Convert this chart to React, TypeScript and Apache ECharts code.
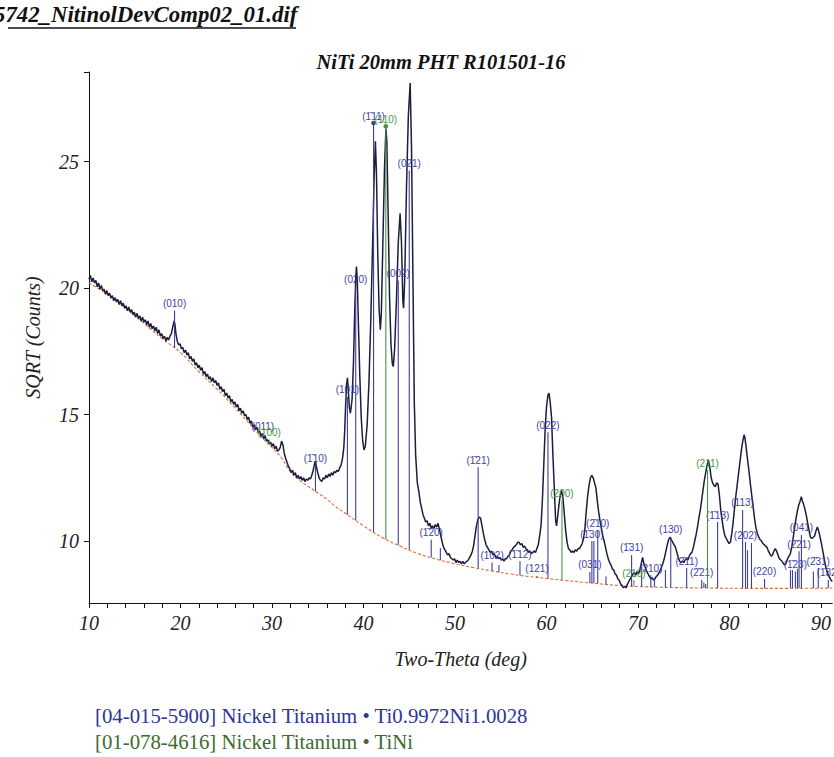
import React, { useEffect, useRef } from "react";
import * as echarts from "echarts";

// Diffraction pattern: [two-theta (deg), SQRT(counts)]
const pattern: [number, number][] = [
  [10.0, 20.35], [10.15, 20.5], [10.3, 20.25], [10.45, 20.4], [10.6, 20.2], [10.75, 20.3], [10.9, 20.05], [11.05, 20.2],
  [11.2, 19.95], [11.35, 20.1], [11.5, 19.9], [11.65, 19.95], [11.8, 19.75], [11.95, 19.9], [12.1, 19.7], [12.25, 19.8],
  [12.4, 19.6], [12.55, 19.7], [12.7, 19.5], [12.85, 19.62], [13.0, 19.45], [13.15, 19.55], [13.3, 19.35], [13.45, 19.5],
  [13.6, 19.3], [13.75, 19.4], [13.9, 19.2], [14.05, 19.3], [14.2, 19.1], [14.35, 19.25], [14.5, 19.05], [14.65, 19.15],
  [14.8, 18.95], [14.95, 19.05], [15.1, 18.85], [15.25, 19.0], [15.4, 18.8], [15.55, 18.9], [15.7, 18.7], [15.85, 18.85],
  [16.0, 18.65], [16.15, 18.75], [16.3, 18.55], [16.45, 18.7], [16.6, 18.45], [16.75, 18.6], [16.9, 18.4], [17.05, 18.5],
  [17.2, 18.3], [17.35, 18.45], [17.5, 18.2], [17.65, 18.35], [17.8, 18.1], [17.95, 18.2], [18.1, 18.0], [18.25, 18.1],
  [18.4, 17.9], [18.55, 18.05], [18.7, 17.95], [18.85, 18.1], [19.0, 18.2], [19.15, 18.45], [19.3, 18.7], [19.4, 18.55],
  [19.5, 18.2], [19.65, 17.9], [19.8, 17.75], [19.95, 17.8], [20.1, 17.6], [20.25, 17.65], [20.4, 17.45], [20.55, 17.55],
  [20.7, 17.35], [20.85, 17.45], [21.0, 17.2], [21.15, 17.3], [21.3, 17.1], [21.45, 17.2], [21.6, 16.95], [21.75, 17.05],
  [21.9, 16.85], [22.05, 16.95], [22.2, 16.75], [22.35, 16.85], [22.5, 16.6], [22.65, 16.7], [22.8, 16.5], [22.95, 16.6],
  [23.1, 16.4], [23.25, 16.5], [23.4, 16.3], [23.55, 16.45], [23.7, 16.25], [23.85, 16.35], [24.0, 16.15], [24.15, 16.25],
  [24.3, 16.0], [24.45, 16.1], [24.6, 15.9], [24.75, 16.0], [24.9, 15.75], [25.05, 15.85], [25.2, 15.65], [25.35, 15.75],
  [25.5, 15.5], [25.65, 15.6], [25.8, 15.4], [25.95, 15.5], [26.1, 15.3], [26.25, 15.4], [26.4, 15.15], [26.55, 15.25],
  [26.7, 15.05], [26.85, 15.15], [27.0, 14.95], [27.15, 15.0], [27.3, 14.8], [27.45, 14.9], [27.6, 14.65], [27.75, 14.75],
  [27.9, 14.5], [28.05, 14.6], [28.2, 14.4], [28.35, 14.5], [28.5, 14.3], [28.65, 14.35], [28.8, 14.15], [28.95, 14.25],
  [29.1, 14.05], [29.25, 14.15], [29.4, 13.95], [29.55, 14.0], [29.7, 13.85], [29.85, 13.9], [30.0, 13.75], [30.15, 13.85],
  [30.3, 13.65], [30.45, 13.75], [30.6, 13.55], [30.75, 13.6], [30.9, 13.7], [31.05, 13.95], [31.2, 13.8], [31.35, 13.45],
  [31.5, 13.25], [31.65, 13.1], [31.8, 12.95], [31.95, 12.85], [32.1, 12.7], [32.25, 12.8], [32.4, 12.6], [32.55, 12.7],
  [32.7, 12.5], [32.85, 12.6], [33.0, 12.45], [33.15, 12.55], [33.3, 12.4], [33.45, 12.5], [33.6, 12.35], [33.75, 12.45],
  [33.9, 12.4], [34.05, 12.5], [34.2, 12.45], [34.35, 12.6], [34.5, 12.8], [34.65, 13.05], [34.75, 13.15], [34.85, 12.95],
  [35.0, 12.7], [35.15, 12.5], [35.3, 12.4], [35.45, 12.35], [35.6, 12.5], [35.75, 12.45], [35.9, 12.6], [36.05, 12.5],
  [36.2, 12.65], [36.35, 12.55], [36.5, 12.7], [36.65, 12.6], [36.8, 12.75], [36.95, 12.7], [37.1, 12.8], [37.25, 12.75],
  [37.4, 12.9], [37.55, 13.0], [37.7, 13.25], [37.85, 13.7], [37.95, 14.4], [38.05, 15.4], [38.15, 16.2], [38.25, 16.45],
  [38.35, 15.9], [38.45, 15.3], [38.57, 15.05], [38.75, 15.6], [38.9, 17.0], [39.05, 19.2], [39.15, 20.4], [39.23, 20.85],
  [39.32, 20.3], [39.45, 18.5], [39.6, 16.5], [39.75, 14.9], [39.9, 14.0], [40.05, 13.6], [40.2, 13.75], [40.4, 14.6],
  [40.6, 16.3], [40.8, 18.8], [41.0, 21.8], [41.15, 24.2], [41.3, 25.8], [41.42, 24.5], [41.55, 21.5], [41.7, 19.2],
  [41.84, 18.35], [41.95, 19.0], [42.1, 21.5], [42.3, 24.8], [42.45, 26.3], [42.55, 25.8], [42.7, 22.8], [42.85, 19.6],
  [43.0, 17.8], [43.15, 17.0], [43.26, 16.9], [43.4, 17.6], [43.6, 19.5], [43.8, 21.8], [44.0, 22.95], [44.15, 21.8],
  [44.3, 19.5], [44.38, 19.2], [44.5, 20.3], [44.7, 24.0], [44.9, 26.8], [45.1, 28.1], [45.25, 25.5], [45.4, 20.5],
  [45.55, 15.5], [45.7, 13.4], [45.88, 12.3], [46.05, 11.95], [46.2, 11.55], [46.35, 11.3], [46.5, 11.05], [46.65, 10.9],
  [46.8, 10.75], [46.95, 10.8], [47.1, 10.6], [47.25, 10.7], [47.4, 10.5], [47.55, 10.6], [47.7, 10.5], [47.85, 10.65],
  [48.0, 10.55], [48.15, 10.7], [48.3, 10.45], [48.45, 10.2], [48.6, 9.95], [48.75, 9.75], [48.9, 9.65], [49.05, 9.55],
  [49.2, 9.45], [49.35, 9.5], [49.5, 9.35], [49.65, 9.3], [49.8, 9.25], [49.95, 9.3], [50.1, 9.15], [50.25, 9.25],
  [50.4, 9.15], [50.55, 9.2], [50.7, 9.1], [50.85, 9.2], [51.0, 9.1], [51.15, 9.15], [51.3, 9.2], [51.45, 9.25],
  [51.6, 9.35], [51.75, 9.45], [51.9, 9.6], [52.05, 9.85], [52.2, 10.25], [52.35, 10.6], [52.5, 10.85], [52.65, 10.95],
  [52.8, 10.9], [52.95, 10.6], [53.1, 10.3], [53.25, 10.05], [53.4, 9.85], [53.55, 9.75], [53.7, 9.65], [53.85, 9.55],
  [54.0, 9.6], [54.15, 9.45], [54.3, 9.5], [54.45, 9.35], [54.6, 9.4], [54.75, 9.3], [54.9, 9.35], [55.05, 9.25],
  [55.2, 9.3], [55.35, 9.2], [55.5, 9.3], [55.65, 9.3], [55.8, 9.4], [55.95, 9.45], [56.1, 9.6], [56.25, 9.65],
  [56.4, 9.75], [56.55, 9.8], [56.7, 9.85], [56.85, 9.95], [57.0, 9.95], [57.15, 9.85], [57.3, 9.9], [57.45, 9.75],
  [57.6, 9.8], [57.75, 9.7], [57.9, 9.65], [58.05, 9.55], [58.2, 9.6], [58.35, 9.5], [58.5, 9.55], [58.65, 9.6],
  [58.8, 9.55], [58.95, 9.7], [59.1, 9.85], [59.25, 10.2], [59.4, 10.6], [59.55, 11.6], [59.7, 13.0], [59.85, 14.4],
  [60.0, 15.3], [60.15, 15.75], [60.27, 15.85], [60.4, 15.5], [60.55, 14.9], [60.7, 13.4], [60.85, 12.1], [61.0, 10.8],
  [61.1, 10.6], [61.2, 10.9], [61.35, 11.4], [61.5, 11.8], [61.65, 12.0], [61.8, 11.7], [61.95, 11.05], [62.1, 10.4],
  [62.25, 9.95], [62.4, 9.7], [62.55, 9.65], [62.7, 9.55], [62.85, 9.6], [63.0, 9.55], [63.15, 9.65], [63.3, 9.6],
  [63.45, 9.7], [63.6, 9.7], [63.75, 9.8], [63.9, 9.9], [64.05, 10.1], [64.2, 10.5], [64.35, 11.2], [64.5, 11.8],
  [64.65, 12.2], [64.8, 12.5], [64.95, 12.6], [65.1, 12.5], [65.25, 12.3], [65.4, 12.1], [65.55, 11.6], [65.7, 11.15],
  [65.85, 10.8], [66.0, 10.5], [66.15, 10.2], [66.3, 10.0], [66.45, 9.75], [66.6, 9.5], [66.75, 9.3], [66.9, 9.15],
  [67.05, 9.05], [67.2, 8.9], [67.35, 8.85], [67.5, 8.7], [67.65, 8.65], [67.8, 8.5], [67.95, 8.45], [68.1, 8.3],
  [68.25, 8.25], [68.4, 8.15], [68.55, 8.2], [68.7, 8.15], [68.85, 8.3], [69.0, 8.4], [69.15, 8.5], [69.3, 8.6],
  [69.45, 8.7], [69.6, 8.75], [69.75, 8.65], [69.9, 8.8], [70.05, 8.7], [70.2, 8.85], [70.35, 9.1], [70.5, 9.35],
  [70.65, 9.1], [70.8, 8.95], [70.95, 8.8], [71.1, 8.7], [71.25, 8.6], [71.4, 8.5], [71.55, 8.55], [71.7, 8.45],
  [71.85, 8.5], [72.0, 8.6], [72.15, 8.65], [72.3, 8.75], [72.45, 8.85], [72.6, 9.0], [72.75, 9.15], [72.9, 9.35],
  [73.05, 9.6], [73.2, 9.85], [73.35, 10.05], [73.5, 10.15], [73.65, 10.05], [73.8, 9.95], [73.95, 9.85], [74.1, 9.75],
  [74.25, 9.55], [74.4, 9.35], [74.55, 9.2], [74.7, 9.15], [74.85, 9.2], [75.0, 9.15], [75.15, 9.25], [75.3, 9.3],
  [75.45, 9.25], [75.6, 9.4], [75.75, 9.5], [75.9, 9.55], [76.05, 9.75], [76.2, 10.0], [76.35, 10.25], [76.5, 10.55],
  [76.65, 10.9], [76.8, 11.2], [76.95, 11.6], [77.1, 12.0], [77.25, 12.4], [77.4, 12.7], [77.55, 13.0], [77.7, 13.2],
  [77.85, 12.9], [78.0, 12.5], [78.15, 12.3], [78.3, 12.2], [78.45, 12.15], [78.6, 12.3], [78.75, 12.25], [78.9, 11.8],
  [79.05, 11.2], [79.2, 10.8], [79.35, 10.45], [79.5, 10.2], [79.65, 10.1], [79.8, 10.0], [79.95, 9.9], [80.1, 9.95],
  [80.25, 10.3], [80.4, 10.75], [80.55, 11.3], [80.7, 11.8], [80.85, 12.25], [81.0, 12.7], [81.15, 13.15], [81.3, 13.6],
  [81.45, 13.95], [81.6, 14.2], [81.7, 14.05], [81.85, 13.6], [82.0, 13.15], [82.15, 12.7], [82.3, 12.2], [82.45, 11.75],
  [82.6, 11.3], [82.75, 10.85], [82.9, 10.5], [83.05, 10.3], [83.2, 10.15], [83.35, 10.05], [83.5, 10.0], [83.65, 9.9],
  [83.8, 9.85], [83.95, 9.8], [84.1, 9.75], [84.25, 9.6], [84.4, 9.5], [84.55, 9.4], [84.7, 9.45], [84.85, 9.6],
  [85.0, 9.7], [85.15, 9.6], [85.3, 9.45], [85.45, 9.3], [85.6, 9.25], [85.75, 9.2], [85.9, 9.1], [86.05, 9.05],
  [86.2, 9.15], [86.35, 9.3], [86.5, 9.4], [86.65, 9.5], [86.8, 9.75], [86.95, 10.1], [87.1, 10.5], [87.25, 10.85],
  [87.4, 11.15], [87.55, 11.4], [87.7, 11.55], [87.85, 11.75], [87.95, 11.6], [88.1, 11.45], [88.25, 11.25], [88.4, 11.0],
  [88.55, 10.7], [88.7, 10.4], [88.85, 10.15], [89.0, 10.1], [89.15, 10.15], [89.3, 10.2], [89.45, 10.4], [89.6, 10.55],
  [89.75, 10.4], [89.9, 10.15], [90.05, 9.9], [90.2, 9.6], [90.35, 9.3], [90.5, 9.0], [90.65, 8.8], [90.8, 8.65],
  [90.95, 8.55], [91.1, 8.45], [91.24, 8.4],
];

// Fitted background (dashed)
const background: [number, number][] = [
  [10, 20.2], [12, 19.75], [14, 19.2], [16, 18.6], [18, 18.0], [20, 17.45], [22, 16.7], [24, 16.0], [26, 15.25],
  [28, 14.45], [29, 14.05], [30, 13.7], [31, 13.3], [32, 12.75], [33, 12.4], [34, 12.15], [35, 11.9], [36, 11.65],
  [37, 11.35], [38, 11.1], [40, 10.6], [42, 10.15], [44, 9.8], [46, 9.5], [48, 9.28], [50, 9.1], [52, 8.95],
  [54, 8.82], [56, 8.7], [58, 8.6], [60, 8.52], [62, 8.44], [64, 8.37], [66, 8.3], [68, 8.24], [70, 8.2], [74, 8.16],
  [78, 8.14], [82, 8.13], [86, 8.13], [91.24, 8.14],
];

// Reference sticks [two-theta, top]
const blueSticks: [number, number][] = [
  [19.35, 19.1], [29.0, 14.25], [34.75, 13.0], [38.24, 15.7], [39.15, 20.05], [41.1, 26.52], [43.8, 20.3],
  [45.0, 24.65], [47.4, 10.05], [48.4, 9.72], [52.53, 12.92], [54.05, 9.15], [54.8, 9.05], [57.1, 9.2],
  [58.96, 8.62], [60.16, 14.3], [64.74, 8.78], [64.96, 10.0], [65.18, 10.0], [65.6, 10.4], [66.5, 8.6],
  [69.3, 9.45], [70.4, 9.1], [71.4, 8.65], [71.8, 8.55], [73.0, 8.85], [73.58, 10.16], [75.32, 8.93],
  [76.96, 8.46], [77.2, 8.36], [77.4, 8.3], [78.7, 10.75], [81.43, 11.23], [81.75, 9.96], [81.97, 9.64],
  [82.4, 9.92], [83.83, 8.5], [86.66, 8.85], [86.88, 8.85], [87.2, 8.8], [87.43, 8.9], [87.6, 9.6],
  [87.86, 10.24], [89.17, 8.8], [89.7, 8.93], [90.8, 8.46],
];
const blueLabels: string[] = [
  "(010)", "(011)", "(1\u030410)", "(101)", "(020)", "(1\u030411)", "(002)",
  "(021)", "(1\u030420)", "", "(1\u030421)", "(102)", "", "(1\u030412)",
  "(121)", "(022)", "(031)", "(1\u030430)", "", "(2\u030410)", "",
  "(1\u030431)", "", "(210)", "", "", "(130)", "(2\u030411)",
  "(2\u030421)", "", "", "(1\u030413)", "(113)", "(202)", "",
  "", "(220)", "", "", "(1\u030423)", "", "(2\u030421)",
  "(041)", "", "(2\u030431)", "(1\u030432)",
];
const greenSticks: [number, number][] = [
  [29.7, 14.0], [42.44, 26.4], [61.69, 11.6], [69.55, 8.45], [77.6, 12.8],
];
const greenLabels: string[] = ["(100)", "(110)", "(200)", "(210)", "(211)"];
const dotIndexBlue = [5];
const dotIndexGreen = [1];

const xTickLabels = [10, 20, 30, 40, 50, 60, 70, 80, 90];
const xMinorTicks = [10, 12, 14, 16, 18, 20, 22, 24, 26, 28, 30, 32, 34, 36, 38, 40, 42, 44, 46, 48, 50, 52, 54, 56, 58, 60, 62, 64, 66, 68, 70, 72, 74, 76, 78, 80, 82, 84, 86, 88, 90];
const yTickLabels = [10, 15, 20, 25];

const legendEntries = [
  "[04-015-5900] Nickel Titanium \u2022 Ti0.9972Ni1.0028",
  "[01-078-4616] Nickel Titanium \u2022 TiNi",
];
const fileTitle = "5742_NitinolDevComp02_01.dif";
const chartTitle = "NiTi 20mm PHT R101501-16";

const BLUE = "#3c3fa3";
const GREEN = "#4a9446";
const SERIF = "'Liberation Serif', 'DejaVu Serif', serif";
const SANS = "'Liberation Sans', 'DejaVu Sans', sans-serif";

function bgAt(x: number): number {
  for (let i = 0; i < background.length - 1; i++) {
    const [x0, y0] = background[i];
    const [x1, y1] = background[i + 1];
    if (x >= x0 && x <= x1) return y0 + ((y1 - y0) * (x - x0)) / (x1 - x0);
  }
  return background[background.length - 1][1];
}

function stickRenderer(color: string, labels: string[], dots: number[]) {
  return (params: any, api: any) => {
    const x = api.value(0);
    const top = api.value(1);
    const p0 = api.coord([x, bgAt(x)]);
    const p1 = api.coord([x, top]);
    const children: any[] = [
      {
        type: "line",
        shape: { x1: p0[0], y1: p0[1], x2: p1[0], y2: p1[1] },
        style: { stroke: color, lineWidth: 1.1 },
      },
    ];
    const label = labels[params.dataIndex];
    if (label) {
      children.push({
        type: "text",
        x: p1[0],
        y: p1[1] - 7,
        style: {
          text: label,
          fill: color,
          fontSize: 10,
          fontFamily: SANS,
          align: "center",
          verticalAlign: "middle",
        },
      });
    }
    if (dots.indexOf(params.dataIndex) >= 0) {
      children.push({
        type: "circle",
        shape: { cx: p1[0], cy: p1[1], r: 2.3 },
        style: { fill: color },
      });
    }
    return { type: "group", children };
  };
}

export default function App() {
  const ref = useRef<HTMLDivElement>(null);
  useEffect(() => {
    if (!ref.current) return;
    const chart = echarts.init(ref.current, undefined, { renderer: "svg" });
    const axisFont = { fontFamily: SERIF, fontStyle: "italic" as const, fontSize: 20, color: "#222" };
    chart.setOption({
      animation: false,
      backgroundColor: "#fff",
      grid: { left: 89, right: 0, top: 72, bottom: 154 },
      xAxis: {
        type: "value",
        min: 10,
        max: 91.24,
        axisLine: { show: true, lineStyle: { color: "#111", width: 1 } },
        axisTick: { show: true, length: 5, customValues: xMinorTicks, lineStyle: { color: "#111" } },
        axisLabel: { ...axisFont, margin: 10, customValues: xTickLabels },
        splitLine: { show: false },
        name: "Two-Theta (deg)",
        nameLocation: "middle",
        nameGap: 46,
        nameTextStyle: { fontFamily: SERIF, fontStyle: "italic", fontSize: 20, color: "#222" },
      },
      yAxis: {
        type: "value",
        min: 7.55,
        max: 28.54,
        axisLine: { show: true, lineStyle: { color: "#111", width: 1 } },
        axisTick: { show: true, length: 5, customValues: [10, 15, 20, 25, 28.54], lineStyle: { color: "#111" } },
        axisLabel: { ...axisFont, margin: 10, customValues: yTickLabels },
        splitLine: { show: false },
        name: "SQRT (Counts)",
        nameLocation: "middle",
        nameGap: 46,
        nameRotate: 90,
        nameTextStyle: { fontFamily: SERIF, fontStyle: "italic", fontSize: 20, color: "#222" },
      },
      series: [
        {
          type: "line",
          data: background,
          showSymbol: false,
          smooth: true,
          lineStyle: { color: "#e0692e", width: 1.1, type: [3, 2] },
          z: 1,
          silent: true,
        },
        {
          type: "line",
          data: pattern,
          showSymbol: false,
          lineStyle: { color: "#1d1d3d", width: 1.5 },
          z: 2,
          silent: true,
        },
        {
          type: "custom",
          data: blueSticks,
          renderItem: stickRenderer(BLUE, blueLabels, dotIndexBlue),
          z: 3,
          silent: true,
        },
        {
          type: "custom",
          data: greenSticks,
          renderItem: stickRenderer(GREEN, greenLabels, dotIndexGreen),
          z: 4,
          silent: true,
        },
      ],
      graphic: [
        {
          type: "text",
          x: -6,
          y: 14,
          style: {
            text: fileTitle,
            fontFamily: SERIF,
            fontStyle: "italic",
            fontWeight: "bold",
            fontSize: 22.8,
            fill: "#111",
            verticalAlign: "middle",
          },
        },
        {
          type: "line",
          shape: { x1: 8, y1: 28, x2: 296, y2: 28 },
          style: { stroke: "#111", lineWidth: 1.4 },
        },
        {
          type: "text",
          x: 441,
          y: 62,
          style: {
            text: chartTitle,
            fontFamily: SERIF,
            fontStyle: "italic",
            fontWeight: "bold",
            fontSize: 20.5,
            fill: "#111",
            align: "center",
            verticalAlign: "middle",
          },
        },
        {
          type: "text",
          x: 95,
          y: 715,
          style: {
            text: legendEntries[0],
            fontFamily: SERIF,
            fontSize: 20.8,
            fill: "#2e3596",
            verticalAlign: "middle",
          },
        },
        {
          type: "text",
          x: 95,
          y: 741,
          style: {
            text: legendEntries[1],
            fontFamily: SERIF,
            fontSize: 20.8,
            fill: "#3c6b30",
            verticalAlign: "middle",
          },
        },
      ],
    });
    return () => chart.dispose();
  }, []);
  return (
    <div
      ref={ref}
      style={{ position: "absolute", left: 0, top: 0, width: 834, height: 757 }}
    />
  );
}
